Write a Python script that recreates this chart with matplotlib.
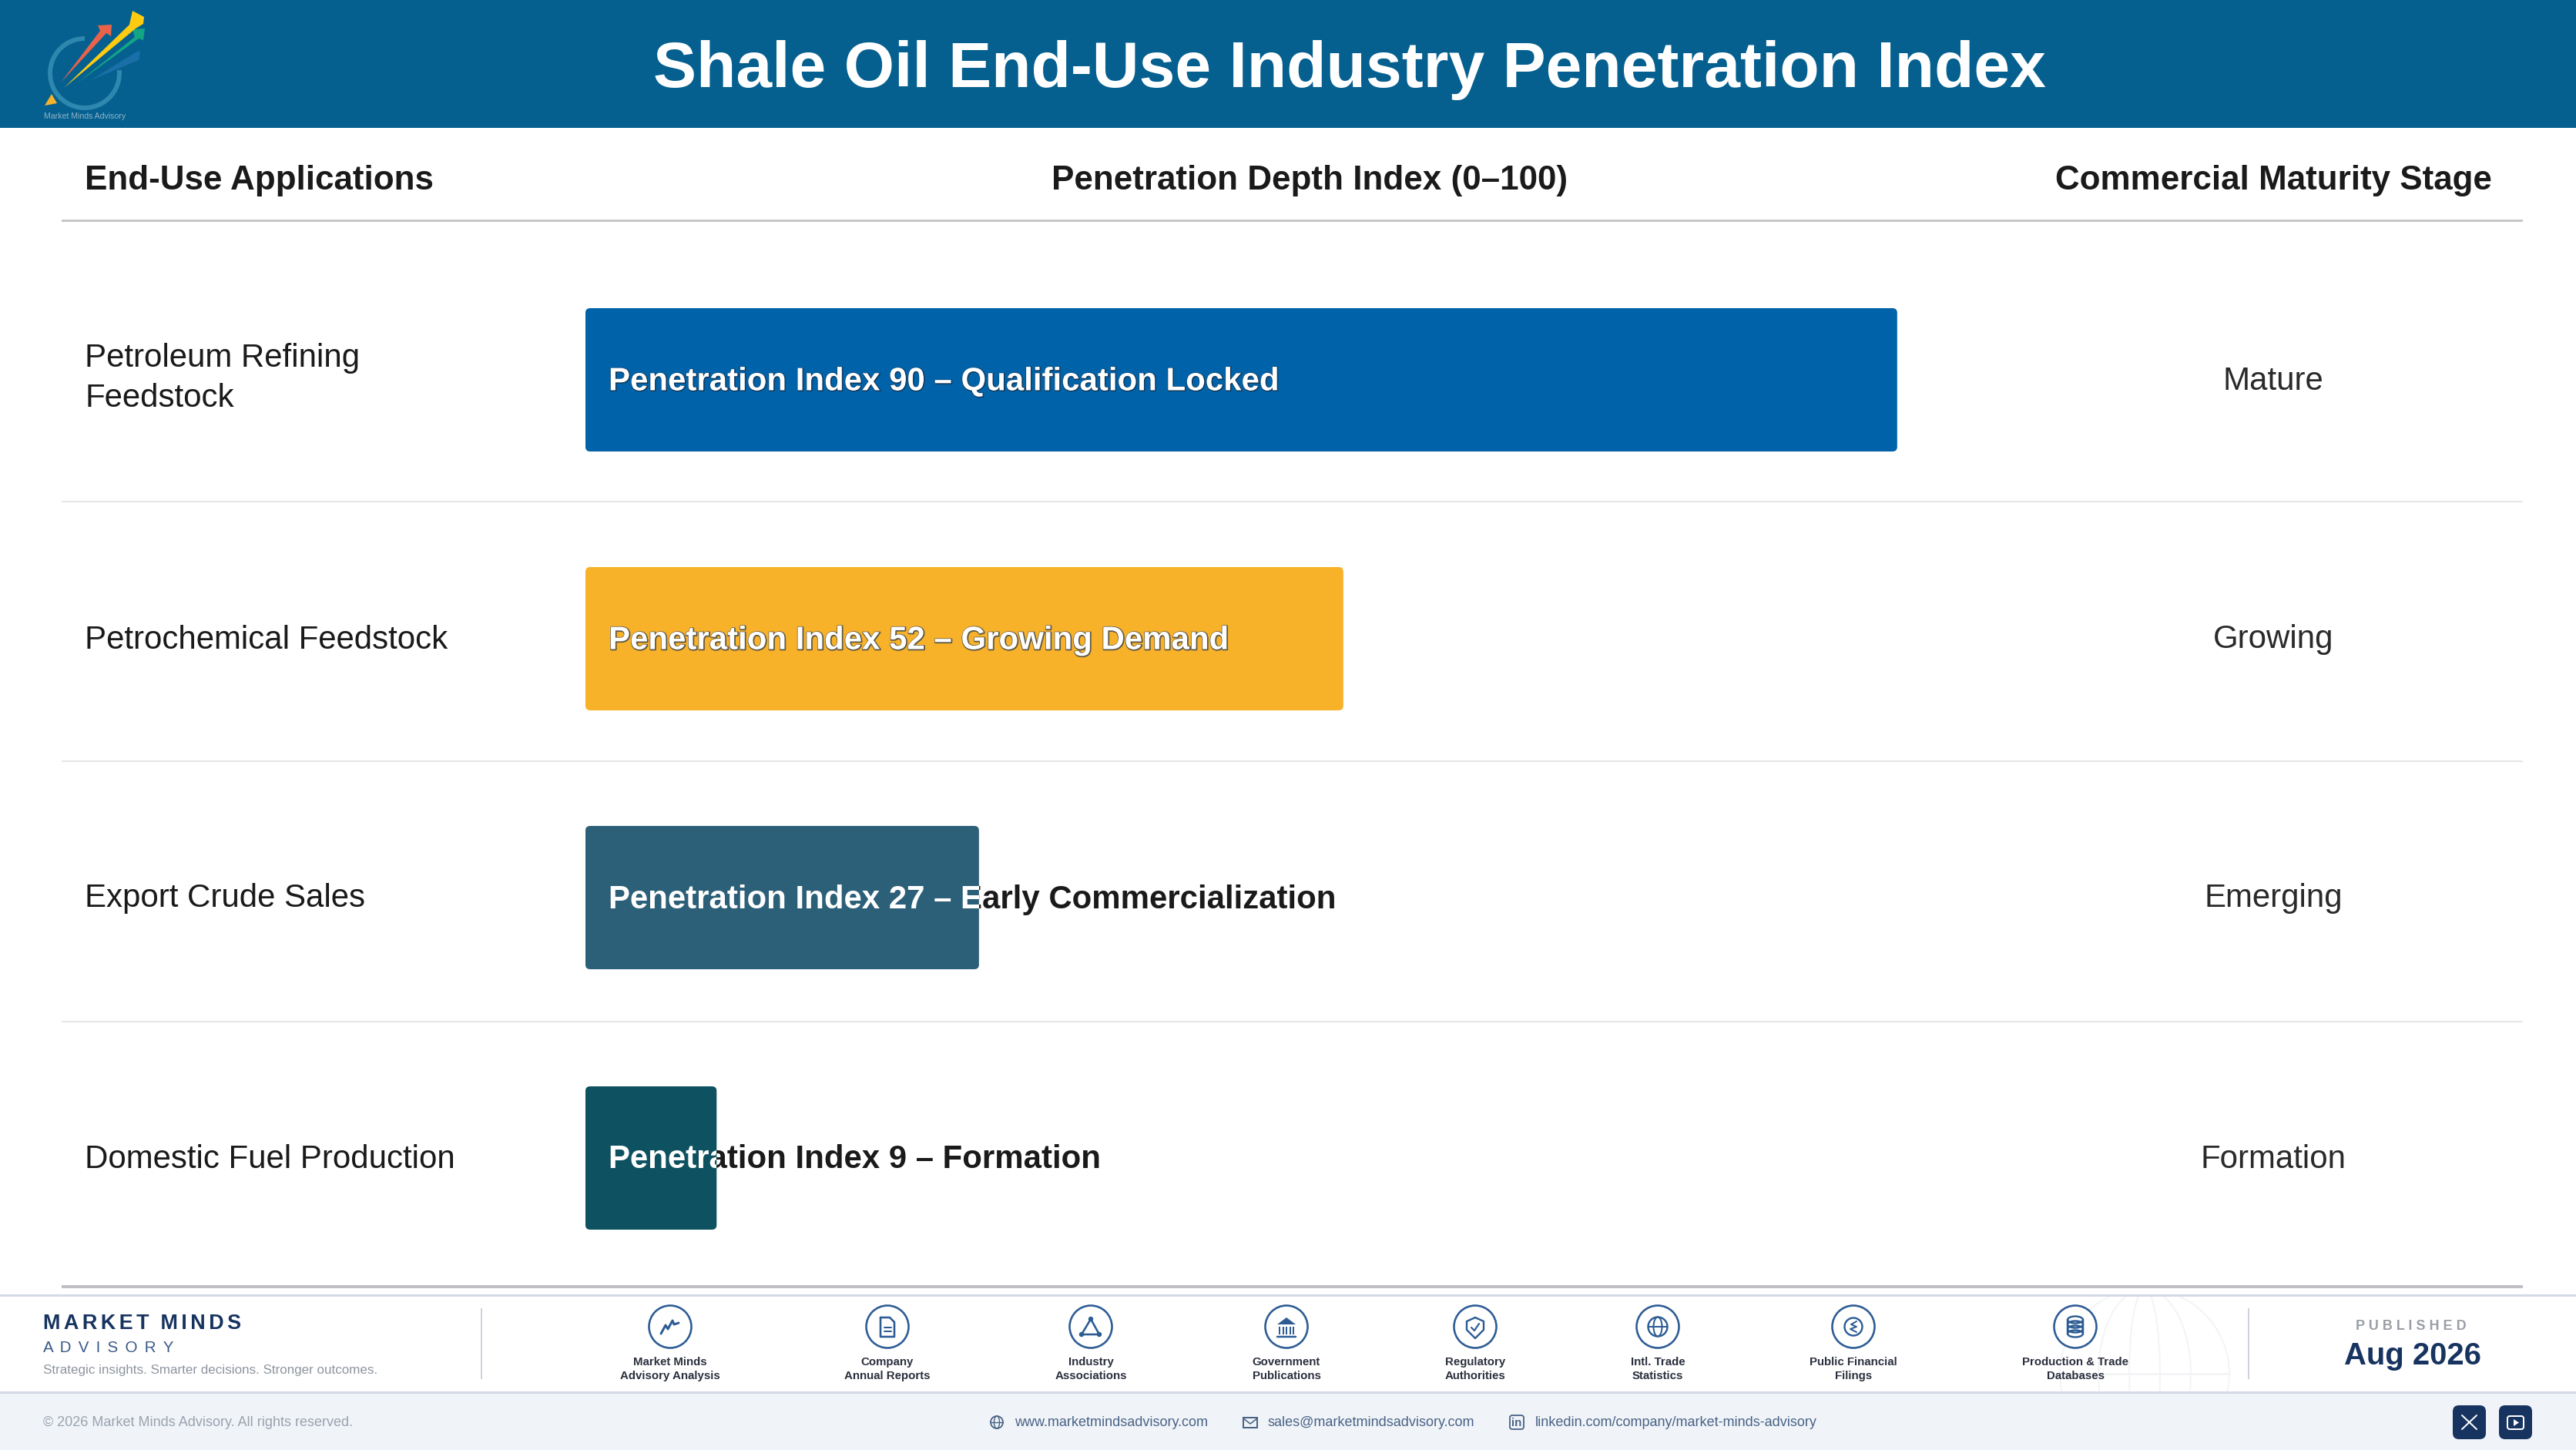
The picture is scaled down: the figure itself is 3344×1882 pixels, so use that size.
import matplotlib
matplotlib.use("Agg")
import matplotlib.pyplot as plt
import matplotlib.patheffects as pe
from matplotlib.patches import FancyBboxPatch, Rectangle, Circle, Ellipse, Arc, Polygon
from matplotlib.transforms import Bbox, TransformedBbox

plt.rcParams['font.family'] = ['Liberation Sans', 'DejaVu Sans']

W, H = 3344, 1882
PT = 0.72

# ---- data ----
title = "Shale Oil End-Use Industry Penetration Index"
col_heads = ["End-Use Applications", "Penetration Depth Index (0–100)", "Commercial Maturity Stage"]
categories = ["Petroleum Refining\nFeedstock", "Petrochemical Feedstock", "Export Crude Sales", "Domestic Fuel Production"]
index_values = [90, 52, 27, 9]
descriptors = ["Qualification Locked", "Growing Demand", "Early Commercialization", "Formation"]
stages = ["Mature", "Growing", "Emerging", "Formation"]
bar_colors = ["#0063A9", "#F8B229", "#2C5F78", "#0E5160"]
sources = ["Market Minds\nAdvisory Analysis", "Company\nAnnual Reports", "Industry\nAssociations",
           "Government\nPublications", "Regulatory\nAuthorities", "Intl. Trade\nStatistics",
           "Public Financial\nFilings", "Production & Trade\nDatabases"]
source_x = [870, 1152, 1416, 1670, 1915, 2152, 2406, 2694]

NAVY = "#17335F"
ICON = "#2D5C94"

fig = plt.figure(figsize=(W / 100, H / 100), dpi=100, facecolor="white")
bg = fig.add_axes([0, 0, 1, 1])
bg.set_xlim(0, W)
bg.set_ylim(H, 0)
bg.axis("off")


def T(x, y, s, px, color="#1a1a1a", weight="normal", ha="left", va="baseline", **kw):
    return bg.text(x, y, s, fontsize=px * PT, color=color, fontweight=weight, ha=ha, va=va, **kw)


def L(xs, ys, color=ICON, lw=3, **kw):
    bg.plot(xs, ys, color=color, lw=lw * PT, solid_capstyle=kw.pop("cap", "round"), solid_joinstyle="round", **kw)


def spaced(s, sep):
    return sep.join(s)


# ---- header ----
bg.add_patch(Rectangle((0, 0), W, 166, fc="#05608F", ec="none"))
T(1752, 113, title, 84, color="white", weight="bold", ha="center")

# logo
bg.add_patch(Arc((110, 95), 90, 90, theta1=-5, theta2=270, ec="#2E87AE", lw=6 * PT, zorder=2))
bg.add_patch(Polygon([(58, 137), (67, 122), (74, 134)], fc="#F8B229", ec="none", zorder=3))
bg.add_patch(Polygon([(79, 107), (130, 40), (127, 33), (145, 32), (144, 47), (138, 43)], fc="#E8634A", ec="none", zorder=3))
bg.add_patch(Polygon([(83, 114), (168, 32), (172, 14), (187, 22), (186, 31), (176, 37)], fc="#FFCB10", ec="none", zorder=4))
bg.add_patch(Polygon([(100, 108), (175, 48), (172, 38), (188, 37), (186, 52), (180, 50)], fc="#14A585", ec="none", zorder=3))
bg.add_patch(Polygon([(118, 104), (176, 68), (182, 66), (180, 78)], fc="#1B6FA8", ec="none", zorder=3))
T(110, 154, "Market Minds Advisory", 10.5, color="#8FB3C8", ha="center")

# ---- column headers and rules ----
T(110, 246, col_heads[0], 44, weight="bold")
T(1700, 246, col_heads[1], 44, weight="bold", ha="center")
T(2951, 246, col_heads[2], 44, weight="bold", ha="center")
bg.add_patch(Rectangle((80, 284.5), 3195, 3.5, fc="#C6C6C9", ec="none"))
for y in [651, 988, 1326]:
    bg.add_patch(Rectangle((80, y - 1), 3195, 2, fc="#E6E6E8", ec="none"))
bg.add_patch(Rectangle((80, 1668), 3195, 3.5, fc="#BFBFC5", ec="none"))

# ---- chart axes: x = index 0..100, y = row number ----
row_px = [493, 829, 1165, 1503]
y_unit = (row_px[3] - row_px[0]) / 3.0
x_unit = 18.92
ax_top, ax_bot = 290, 1665
ax = fig.add_axes([760 / W, 1 - ax_bot / H, 1892 / W, (ax_bot - ax_top) / H])
ax.set_xlim(0, 100)
ax.set_ylim((ax_bot - row_px[0]) / y_unit, (ax_top - row_px[0]) / y_unit)
ax.axis("off")
ax.patch.set_alpha(0)
bar_h = 186 / y_unit
radius = 6 / x_unit
aspect = x_unit / y_unit
label_x = 30 / x_unit
row_y = [(p - row_px[0]) / y_unit for p in row_px]
text_dy = -2 / y_unit

for yi, v, d, c in zip(row_y, index_values, descriptors, bar_colors):
    label = f"Penetration Index {v} – {d}"
    ax.text(label_x, yi + text_dy, label, fontsize=42 * PT, fontweight="bold", color="#1a1a1a",
            va="center_baseline", ha="left", zorder=2)
    bar = FancyBboxPatch((0, yi - bar_h / 2), v, bar_h,
                         boxstyle=f"round,pad=0,rounding_size={radius}",
                         mutation_aspect=aspect, fc=c, ec="none", zorder=3)
    ax.add_patch(bar)
    t = ax.text(label_x, yi + text_dy, label, fontsize=42 * PT, fontweight="bold", color="white",
                va="center_baseline", ha="left", zorder=4)
    if c == "#F8B229":
        t.set_path_effects([pe.withStroke(linewidth=1.8, foreground="#5E5844", offset=(0.4, -0.4))])
    elif c == "#0063A9":
        t.set_path_effects([pe.withStroke(linewidth=1.5, foreground="#123A5E", offset=(0.4, -0.4))])
    t.set_clip_on(True)
    t.set_clip_box(TransformedBbox(Bbox([[0, yi - bar_h / 2], [v, yi + bar_h / 2]]), ax.transData))

# ---- row labels ----
for yp, cat, st in zip(row_px, categories, stages):
    lines = cat.split("\n")
    if len(lines) == 2:
        T(110, 475.5, lines[0], 42)
        T(110, 527.5, lines[1], 42)
    else:
        T(110, yp + 12.5, cat, 42)
    T(2951, yp + 12.5, st, 42, color="#2a2a2a", ha="center")

# ---- footer ----
bg.add_patch(Rectangle((0, 1807), W, 75, fc="#F0F4F9", ec="none"))
clip = Rectangle((2600, 1683), 400, 124, transform=bg.transData)
for g in [Circle((2784, 1783), 110), Ellipse((2784, 1783), 120, 220), Ellipse((2784, 1783), 40, 220)]:
    g.set(fc="none", ec="#F3F4F7", lw=2 * PT)
    bg.add_patch(g)
    g.set_clip_path(clip)
bg.plot([2674, 2894], [1783, 1783], color="#F3F4F7", lw=3 * PT)
bg.add_patch(Rectangle((0, 1680), W, 2.5, fc="#D5D8E6", ec="none"))
bg.add_patch(Rectangle((0, 1806), W, 2.5, fc="#D5D8E6", ec="none"))
for x in [625, 2919]:
    bg.add_patch(Rectangle((x - 1, 1698), 2, 92, fc="#CFD3DA", ec="none"))

T(56, 1725, spaced("MARKET", "\u200a\u200a") + "  " + spaced("MINDS", "\u200a\u200a"), 27, color=NAVY, weight="bold")
T(56, 1755, spaced("ADVISORY", " \u200a\u200a"), 20.5, color="#3A5A88")
T(56, 1783, "Strategic insights. Smarter decisions. Stronger outcomes.", 17, color="#8E959F")
T(56, 1851, "© 2026 Market Minds Advisory. All rights reserved.", 18, color="#9AA2AE")
T(3130, 1726, spaced("PUBLISHED", " "), 18, color="#9A9EA6", weight="bold", ha="center")
T(3132, 1771, "Aug 2026", 40, color=NAVY, weight="bold", ha="center")

for x, s in zip(source_x, sources):
    a, b = s.split("\n")
    T(x, 1772, a, 15, color="#2A2F3D", weight="bold", ha="center")
    T(x, 1790, b, 15, color="#2A2F3D", weight="bold", ha="center")
    bg.add_patch(Circle((x, 1722), 27.5, fc="white", ec=ICON, lw=2.6 * PT, zorder=3))

IZ = 5
cy = 1722
# analysis squiggle
x = source_x[0]
L([x - 12, x - 6, x - 3, x + 3, x + 5, x + 11], [cy + 9, cy - 2, cy + 3, cy - 8, cy - 3, cy - 5], lw=3, zorder=IZ)
# document
x = source_x[1]
L([x - 9, x + 3, x + 9, x + 9, x - 9, x - 9], [cy - 12, cy - 12, cy - 6, cy + 13, cy + 13, cy - 12], lw=2.6, zorder=IZ)
L([x - 4, x + 5], [cy + 1, cy + 1], lw=2, zorder=IZ)
L([x - 4, x + 5], [cy + 6, cy + 6], lw=2, zorder=IZ)
# network
x = source_x[2]
L([x, x - 12, x + 11, x], [cy - 10, cy + 10, cy + 10, cy - 10], lw=2.6, zorder=IZ)
for dx, dy in [(0, -10), (-12, 10), (11, 10)]:
    bg.add_patch(Circle((x + dx, cy + dy), 3.2, fc=ICON, ec="none", zorder=IZ))
# government
x = source_x[3]
bg.add_patch(Polygon([(x - 12, cy - 3), (x, cy - 12), (x + 12, cy - 3)], fc=ICON, ec="none", zorder=IZ))
for dx in [-9, -4.5, 0, 4.5, 9]:
    L([x + dx, x + dx], [cy, cy + 10], lw=2, cap="butt", zorder=IZ)
L([x - 12, x + 12], [cy + 13, cy + 13], lw=2.5, zorder=IZ)
# shield
x = source_x[4]
L([x, x + 11, x + 11, x, x - 11, x - 11, x], [cy - 12, cy - 7, cy + 4, cy + 15, cy + 4, cy - 7, cy - 12], lw=2.4, zorder=IZ)
L([x - 5, x - 1, x + 5], [cy + 1, cy + 5, cy - 4], lw=2.2, zorder=IZ)
# globe
x = source_x[5]
bg.add_patch(Circle((x, cy), 12.5, fc="none", ec=ICON, lw=2.4 * PT, zorder=IZ))
bg.add_patch(Ellipse((x, cy), 11, 25, fc="none", ec=ICON, lw=2 * PT, zorder=IZ))
L([x - 12, x + 12], [cy, cy], lw=2, zorder=IZ)
# filings coin
x = source_x[6]
bg.add_patch(Circle((x, cy), 11.5, fc="none", ec=ICON, lw=2.4 * PT, zorder=IZ))
L([x + 4, x - 3, x + 4, x - 4, x + 4], [cy - 7, cy - 3, cy, cy + 3, cy + 7], lw=2, zorder=IZ)
# database
x = source_x[7]
for dy in [-9, -3, 3, 9]:
    bg.add_patch(Ellipse((x, cy + dy), 20, 9, fc="none", ec=ICON, lw=2.4 * PT, zorder=IZ))
L([x - 10, x - 10], [cy - 9, cy + 9], lw=2.4, zorder=IZ)
L([x + 10, x + 10], [cy - 9, cy + 9], lw=2.4, zorder=IZ)

# contact row
CT = "#4A6285"
T(1317, 1851, "www.marketmindsadvisory.com", 18, color=CT)
T(1646, 1851, "sales@marketmindsadvisory.com", 18, color=CT)
T(1993, 1851, "linkedin.com/company/market-minds-advisory", 18, color=CT)
bg.add_patch(Circle((1294, 1846), 8, fc="none", ec=CT, lw=1.8 * PT))
bg.add_patch(Ellipse((1294, 1846), 7, 16, fc="none", ec=CT, lw=1.4 * PT))
L([1286, 1302], [1846, 1846], color=CT, lw=1.4)
bg.add_patch(Rectangle((1614, 1840), 18, 13, fc="none", ec=CT, lw=2 * PT))
L([1614, 1623, 1632], [1841, 1848, 1841], color=CT, lw=1.6)
bg.add_patch(FancyBboxPatch((1960, 1837), 18, 18, boxstyle="round,pad=0,rounding_size=3", fc="none", ec=CT, lw=1.8 * PT))
T(1969, 1851, "in", 15, color=CT, ha="center", weight="bold")

for x0 in [3184, 3244]:
    bg.add_patch(FancyBboxPatch((x0, 1824), 43, 44, boxstyle="round,pad=0,rounding_size=8", fc=NAVY, ec="none"))
L([3196, 3215], [1837, 1855], color="white", lw=2)
L([3215, 3196], [1837, 1855], color="white", lw=2)
bg.add_patch(FancyBboxPatch((3255, 1838), 21, 17, boxstyle="round,pad=0,rounding_size=3", fc="none", ec="white", lw=2 * PT))
bg.add_patch(Polygon([(3263, 1842), (3263, 1851), (3270, 1846.5)], fc="white", ec="none"))

fig.savefig("out.png", dpi=100, facecolor="white")
